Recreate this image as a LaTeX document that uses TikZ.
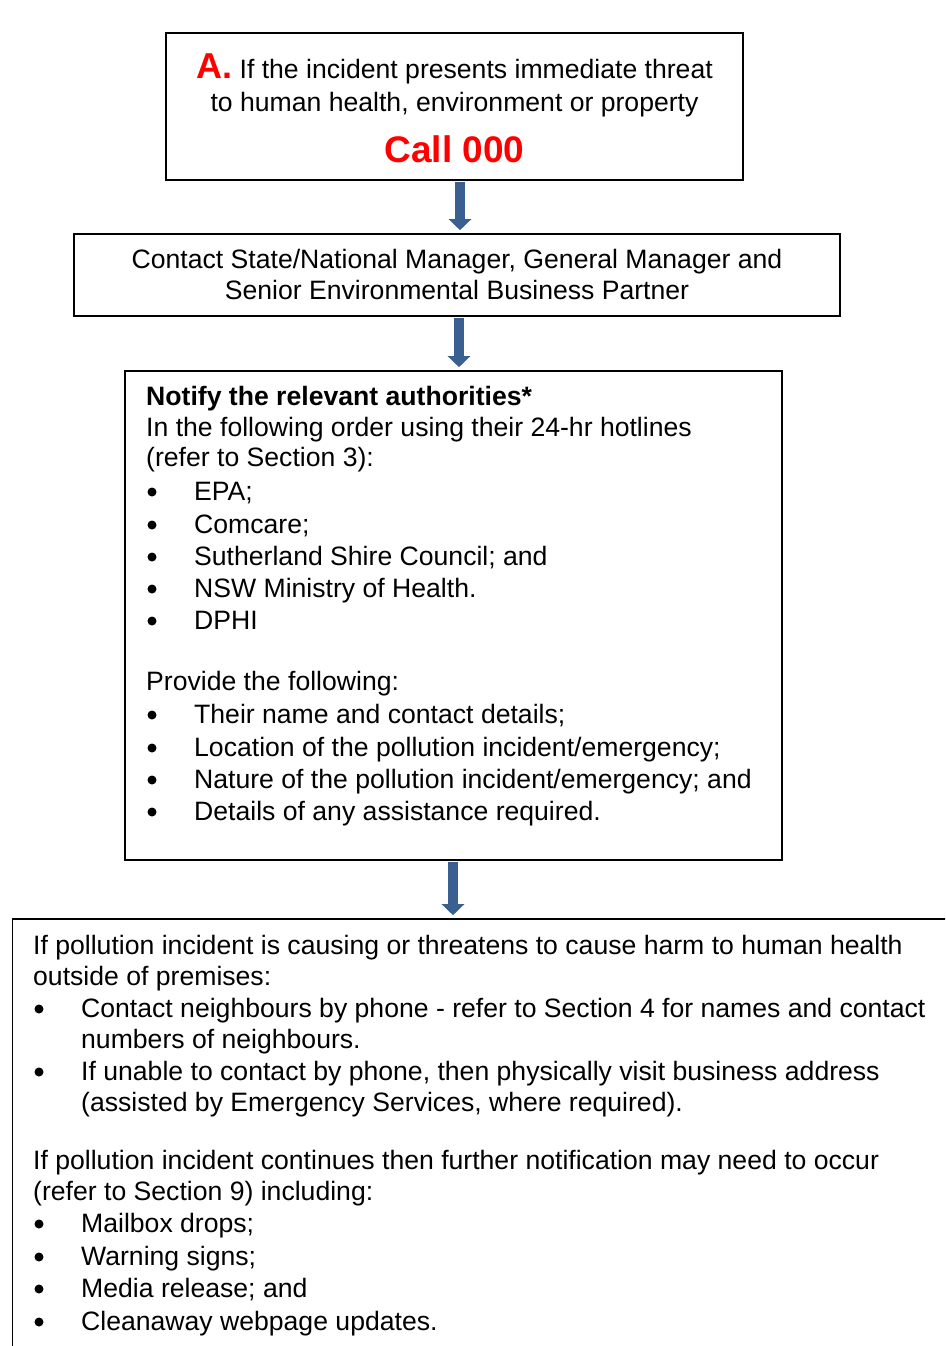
\documentclass[tikz,border=0pt]{standalone}
\usepackage{fontspec}
\setmainfont{Liberation Sans}
\usetikzlibrary{arrows.meta}
\definecolor{arrowblue}{RGB}{58,96,146}
\definecolor{callred}{RGB}{255,0,0}
\tikzset{
  frame/.style={draw=black, line width=1.6pt, rectangle, inner sep=0pt},
  flowarrow/.style={draw=arrowblue, line width=9.5pt, -{Triangle[width=22pt,length=11pt]}, shorten <=1.5pt, shorten >=3pt},
  txt/.style={anchor=base west, inner sep=0pt, font=\fontsize{26.6}{31}\selectfont},
  ctxt/.style={anchor=base, inner sep=0pt, font=\fontsize{26.6}{31}\selectfont},
  bul/.style={circle, fill=black, inner sep=0pt, minimum size=9pt},
  bigred/.style={text=callred, font=\fontsize{37}{42}\selectfont\bfseries}
}
\begin{document}
\begin{tikzpicture}[x=1pt, y=-1pt]
\clip (0,0) rectangle (945,1346);
% boxes
\node[frame, minimum width=577pt, minimum height=147pt] (box1) at (454.5,106.5) {};
\node[frame, minimum width=766pt, minimum height=82pt] (box2) at (457,275) {};
\node[frame, minimum width=657pt, minimum height=489pt] (box3) at (453.5,615.5) {};
\node[frame, minimum width=960pt, minimum height=460pt] (box4) at (492.5,1149) {};
% arrows
\draw[flowarrow] ([xshift=5.5pt]box1.south) -- ([xshift=3pt]box2.north);
\draw[flowarrow] ([xshift=2pt]box2.south) -- ([xshift=5.5pt]box3.north);
\draw[flowarrow] ([xshift=-0.5pt]box3.south) -- ([xshift=-39.5pt]box4.north);
% box 1 text
\node[ctxt] (t1a) at (454.5,78) {{\color{callred}\fontsize{36}{40}\selectfont\bfseries A.} If the incident presents immediate threat};
\node[ctxt] (t1b) at (454.5,111) {to human health, environment or property};
\node[ctxt, bigred] (t1c) at (454.5,162) {Call 000};
% box 2 text
\node[ctxt] (t2a) at (457,268) {Contact State/National Manager, General Manager and};
\node[ctxt] (t2b) at (457,299) {Senior Environmental Business Partner};
% box 3 text
\node[txt] (t3a) at (146,405) {\bfseries Notify the relevant authorities*};
\node[txt] (t3b) at (146,436) {In the following order using their 24-hr hotlines};
\node[txt] (t3c) at (146,466) {(refer to Section 3):};
\foreach \y/\t [count=\i] in {500/{EPA;}, 533/{Comcare;}, 565/{Sutherland Shire Council; and}, 597/{NSW Ministry of Health.}, 629/{DPHI}}{
  \node[bul] (b3a\i) at (152,\y-8) {};
  \node[txt] (l3a\i) at (194,\y) {\t};
}
\node[txt] (t3d) at (146,690) {Provide the following:};
\foreach \y/\t [count=\i] in {723/{Their name and contact details;}, 756/{Location of the pollution incident/emergency;}, 788/{Nature of the pollution incident/emergency; and}, 820/{Details of any assistance required.}}{
  \node[bul] (b3b\i) at (152,\y-8) {};
  \node[txt] (l3b\i) at (194,\y) {\t};
}
% box 4 text
\node[txt] (t4a) at (33,954) {If pollution incident is causing or threatens to cause harm to human health};
\node[txt] (t4b) at (33,985) {outside of premises:};
\node[bul] (b4a1) at (39,1009) {};
\node[txt] (l4a1) at (81,1017) {Contact neighbours by phone - refer to Section 4 for names and contact};
\node[txt] (l4a1b) at (81,1048) {numbers of neighbours.};
\node[bul] (b4a2) at (39,1072) {};
\node[txt] (l4a2) at (81,1080) {If unable to contact by phone, then physically visit business address};
\node[txt] (l4a2b) at (81,1111) {(assisted by Emergency Services, where required).};
\node[txt] (t4c) at (33,1169) {If pollution incident continues then further notification may need to occur};
\node[txt] (t4d) at (33,1200) {(refer to Section 9) including:};
\foreach \y/\t [count=\i] in {1232/{Mailbox drops;}, 1265/{Warning signs;}, 1297/{Media release; and}, 1330/{Cleanaway webpage updates.}}{
  \node[bul] (b4b\i) at (39,\y-8) {};
  \node[txt] (l4b\i) at (81,\y) {\t};
}
\end{tikzpicture}
\end{document}
